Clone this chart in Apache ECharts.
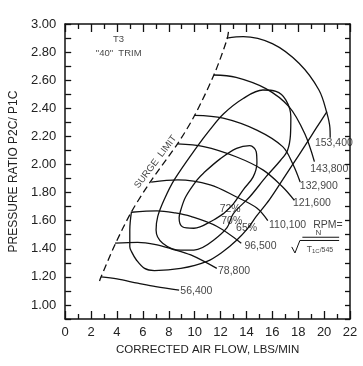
<!DOCTYPE html>
<html><head><meta charset="utf-8">
<script src="https://cdn.jsdelivr.net/npm/echarts@6/dist/echarts.min.js"></script>
<style>html,body{margin:0;padding:0;background:#fff}#c{width:363px;height:366px}</style>
</head><body><div id="c"></div>
<script>
// Axis ranges
const xRange = [0, 22];
const xStep = 2;
const yRange = [0.9, 3.0];
const yStep = 0.1;

// Surge limit (dashed)
const surgeLimit = [[2.65,1.17],[2.77,1.20],[3.85,1.43],[5.1,1.66],[6.6,1.88],[8.7,2.15],[10,2.35],[11.5,2.64],[12.5,2.89],[12.62,2.95]];

// Corrected speed lines (RPM)
const speedNames = ['56,400','78,800','96,500','110,100','121,600','132,900','143,800','153,400'];
const rpm56400  = [[2.77,1.20],[4,1.185],[5.6,1.155],[7,1.13],[8.8,1.105]];
const rpm78800  = [[3.85,1.44],[5.6,1.446],[7,1.43],[8.2,1.40],[9.7,1.356],[11.71,1.26]];
const rpm96500  = [[5.12,1.66],[7.1,1.67],[8.5,1.655],[9.7,1.63],[11.7,1.56],[13.6,1.44]];
const rpm110100 = [[6.64,1.875],[8.7,1.89],[11.2,1.855],[13.2,1.77],[14.8,1.69],[15.65,1.60]];
const rpm121600 = [[8.67,2.146],[10.7,2.127],[13.2,2.055],[15.3,1.96],[16.8,1.84],[17.7,1.745]];
const rpm132900 = [[9.99,2.35],[12.2,2.33],[14.8,2.245],[16.8,2.127],[17.6,2.0],[18.15,1.875]];
const rpm143800 = [[11.46,2.637],[13.2,2.62],[15.5,2.54],[17.3,2.41],[18.5,2.22],[19.25,2.02]];
const rpm153400 = [[12.47,2.90],[13.75,2.91],[16.0,2.86],[18.06,2.72],[19.6,2.53],[20.22,2.364],[20.45,2.26],[20.47,2.19]];
const speedLines = [rpm56400, rpm78800, rpm96500, rpm110100, rpm121600, rpm132900, rpm143800, rpm153400];
const speedLabelAt = [[8.93,1.095],[11.84,1.237],[13.88,1.415],[15.78,1.564],[17.63,1.719],[18.16,1.842],[18.97,1.966],[19.33,2.151]];

// Efficiency islands
const effNames = ['72%','70%','65%'];
const eff72 = [[12.22,1.65],[11.46,1.605],[9.94,1.546],[9.05,1.557],[8.8,1.62],[8.93,1.676],[9.31,1.77],[10.19,1.89],[10.7,1.94],[11.97,2.04],[13.24,2.115],[14.26,2.134],[14.76,2.09],[14.81,2.01],[14.51,1.91],[13.75,1.82],[12.99,1.72],[12.22,1.65]];
const eff70 = [[11.46,1.46],[12.5,1.55],[12.99,1.65],[14.26,1.77],[15.52,1.913],[16.64,2.03],[17.17,2.10],[17.4,2.21],[17.43,2.34],[17.04,2.46],[16.28,2.52],[15.27,2.53],[13.75,2.47],[12.22,2.36],[11.2,2.25],[10.19,2.127],[8.42,1.89],[7.65,1.75],[7.15,1.63],[7.02,1.534],[7.53,1.44],[8.93,1.39],[9.94,1.39],[11.46,1.46]];
const eff65 = [[5.12,1.664],[4.99,1.534],[4.99,1.415],[5.12,1.38],[5.5,1.32],[6.13,1.26],[6.89,1.245],[8.93,1.26],[10.95,1.31],[12.2,1.38],[13.24,1.46],[14.1,1.545],[14.76,1.63],[15.78,1.75],[16.79,1.89],[17.5,1.99],[18.5,2.13],[19.4,2.26],[20.22,2.376]];
const effLabelAt = [[11.97,1.676],[12.09,1.593],[13.24,1.546]];

// Text notes
const notes = [
  {text:'T3', at:[4.15,2.886]},
  {text:'"40"  TRIM', at:[4.17,2.79]}
];
const surgeText = {text:'SURGE  LIMIT', at:[7.02,2.015]};
const rpmFormula = {rpm:'RPM=', rpmAt:[19.2,1.564], n:'N', nAt:[19.59,1.51], den:'T1C/545', denAt:[18.7,1.39],
  bar:[[18.32,1.482],[21.16,1.482]], radical:[[17.5,1.413],[17.75,1.37],[18.13,1.459],[21.16,1.459]]};

const FONT = 'Liberation Sans, Arial, sans-serif';
const INK = '#111';
const lineStyle = {color: INK, width: 1.3};

const series = [];
series.push({type:'line', data: surgeLimit, smooth:0.3, symbol:'none', silent:true,
  lineStyle:{color:INK, width:1.3, type:[7,4]}});
speedLines.forEach((d,i)=>series.push({type:'line', name:speedNames[i], data:d, smooth:0.35, symbol:'none', silent:true, lineStyle}));
[eff72, eff70, eff65].forEach((d,i)=>series.push({type:'line', name:effNames[i], data:d, smooth:0.35, symbol:'none', silent:true, lineStyle}));
series.push({type:'line', data: rpmFormula.bar, symbol:'none', silent:true, lineStyle:{color:INK, width:1}});
series.push({type:'line', data: rpmFormula.radical, symbol:'none', silent:true, lineStyle:{color:INK, width:1}});

function textSeries(items, extra) {
  return Object.assign({type:'scatter', symbolSize:1, itemStyle:{color:'rgba(0,0,0,0)'}, silent:true,
    data: items.map(it=>({value: it.at, name: it.text})),
    label:{show:true, position:[0,0], formatter: p=>p.name, color:INK, fontFamily:FONT, fontSize:10.5, align:'left', verticalAlign:'middle'}
  }, extra || {});
}
series.push(textSeries(speedNames.map((t,i)=>({text:t, at:speedLabelAt[i]}))));
series.push(textSeries(effNames.map((t,i)=>({text:t, at:effLabelAt[i]}))));
series.push(textSeries([{text:rpmFormula.rpm, at:rpmFormula.rpmAt}]));
series.push(textSeries(notes, {label:{show:true, position:[0,0], formatter:p=>p.name, color:INK, fontFamily:FONT, fontSize:9.5, align:'center', verticalAlign:'middle'}}));
series.push(textSeries([{text:rpmFormula.n, at:rpmFormula.nAt}], {label:{show:true, position:[0,0], formatter:p=>p.name, color:INK, fontFamily:FONT, fontSize:8, align:'center', verticalAlign:'middle'}}));
series.push(textSeries([{text:rpmFormula.den, at:rpmFormula.denAt}], {label:{show:true, position:[0,0], formatter:()=>'{t|T}{s|1C}{d|/545}', align:'left', verticalAlign:'middle',
  rich:{t:{fontFamily:FONT,fontSize:8.5,color:INK}, s:{fontFamily:FONT,fontSize:6,color:INK,verticalAlign:'bottom',padding:[4,0,0,0]}, d:{fontFamily:FONT,fontSize:7,color:INK}}}}));
series.push(textSeries([surgeText], {label:{show:true, position:[0,0], formatter:p=>p.name, color:INK, fontFamily:FONT, fontSize:9.5, align:'center', verticalAlign:'middle', rotate:53}}));

const tickStyle = {color:INK, width:1.3};
function xAx(pos, withLabels) {
  return {type:'value', min:xRange[0], max:xRange[1], interval:xStep, position:pos,
    axisLine:{show:true, onZero:false, lineStyle:{color:INK, width:1.5}},
    axisTick:{show:true, inside:true, length:8, lineStyle:tickStyle},
    minorTick:{show:true, splitNumber:2, length:5, lineStyle:tickStyle},
    splitLine:{show:false}, minorSplitLine:{show:false},
    axisLabel:{show:withLabels, fontSize:13, color:'#222', fontFamily:FONT, margin:7},
    name: withLabels ? 'CORRECTED AIR FLOW, LBS/MIN' : '', nameLocation:'middle', nameGap:25,
    nameTextStyle:{fontSize:11.5, color:'#222', fontFamily:FONT}};
}
function yAx(pos, withLabels) {
  return {type:'value', min:yRange[0], max:yRange[1], interval:yStep, position:pos,
    axisLine:{show:true, onZero:false, lineStyle:{color:INK, width:1.5}},
    axisTick:{show:true, inside:true, length: withLabels ? 6 : 5, lineStyle:tickStyle},
    splitLine:{show:false},
    axisLabel:{show:withLabels, fontSize:13, color:'#222', fontFamily:FONT, margin:9,
      formatter: v => (Math.round(v*10)%2===0 ? v.toFixed(2) : '')},
    name: withLabels ? 'PRESSURE RATIO P2C/ P1C' : '', nameLocation:'middle', nameGap:34,
    nameTextStyle:{fontSize:12, color:'#222', fontFamily:FONT}};
}

const chart = echarts.init(document.getElementById('c'), null, {renderer:'canvas'});
chart.setOption({
  animation:false,
  backgroundColor:'#fff',
  grid:{left:59.5, right:13, top:24, bottom:47, containLabel:false},
  xAxis:[xAx('bottom', true), xAx('top', false)],
  yAxis:[yAx('left', true), yAx('right', false)],
  series: series.map(s=>Object.assign({xAxisIndex:0, yAxisIndex:0}, s))
});
</script></body></html>
